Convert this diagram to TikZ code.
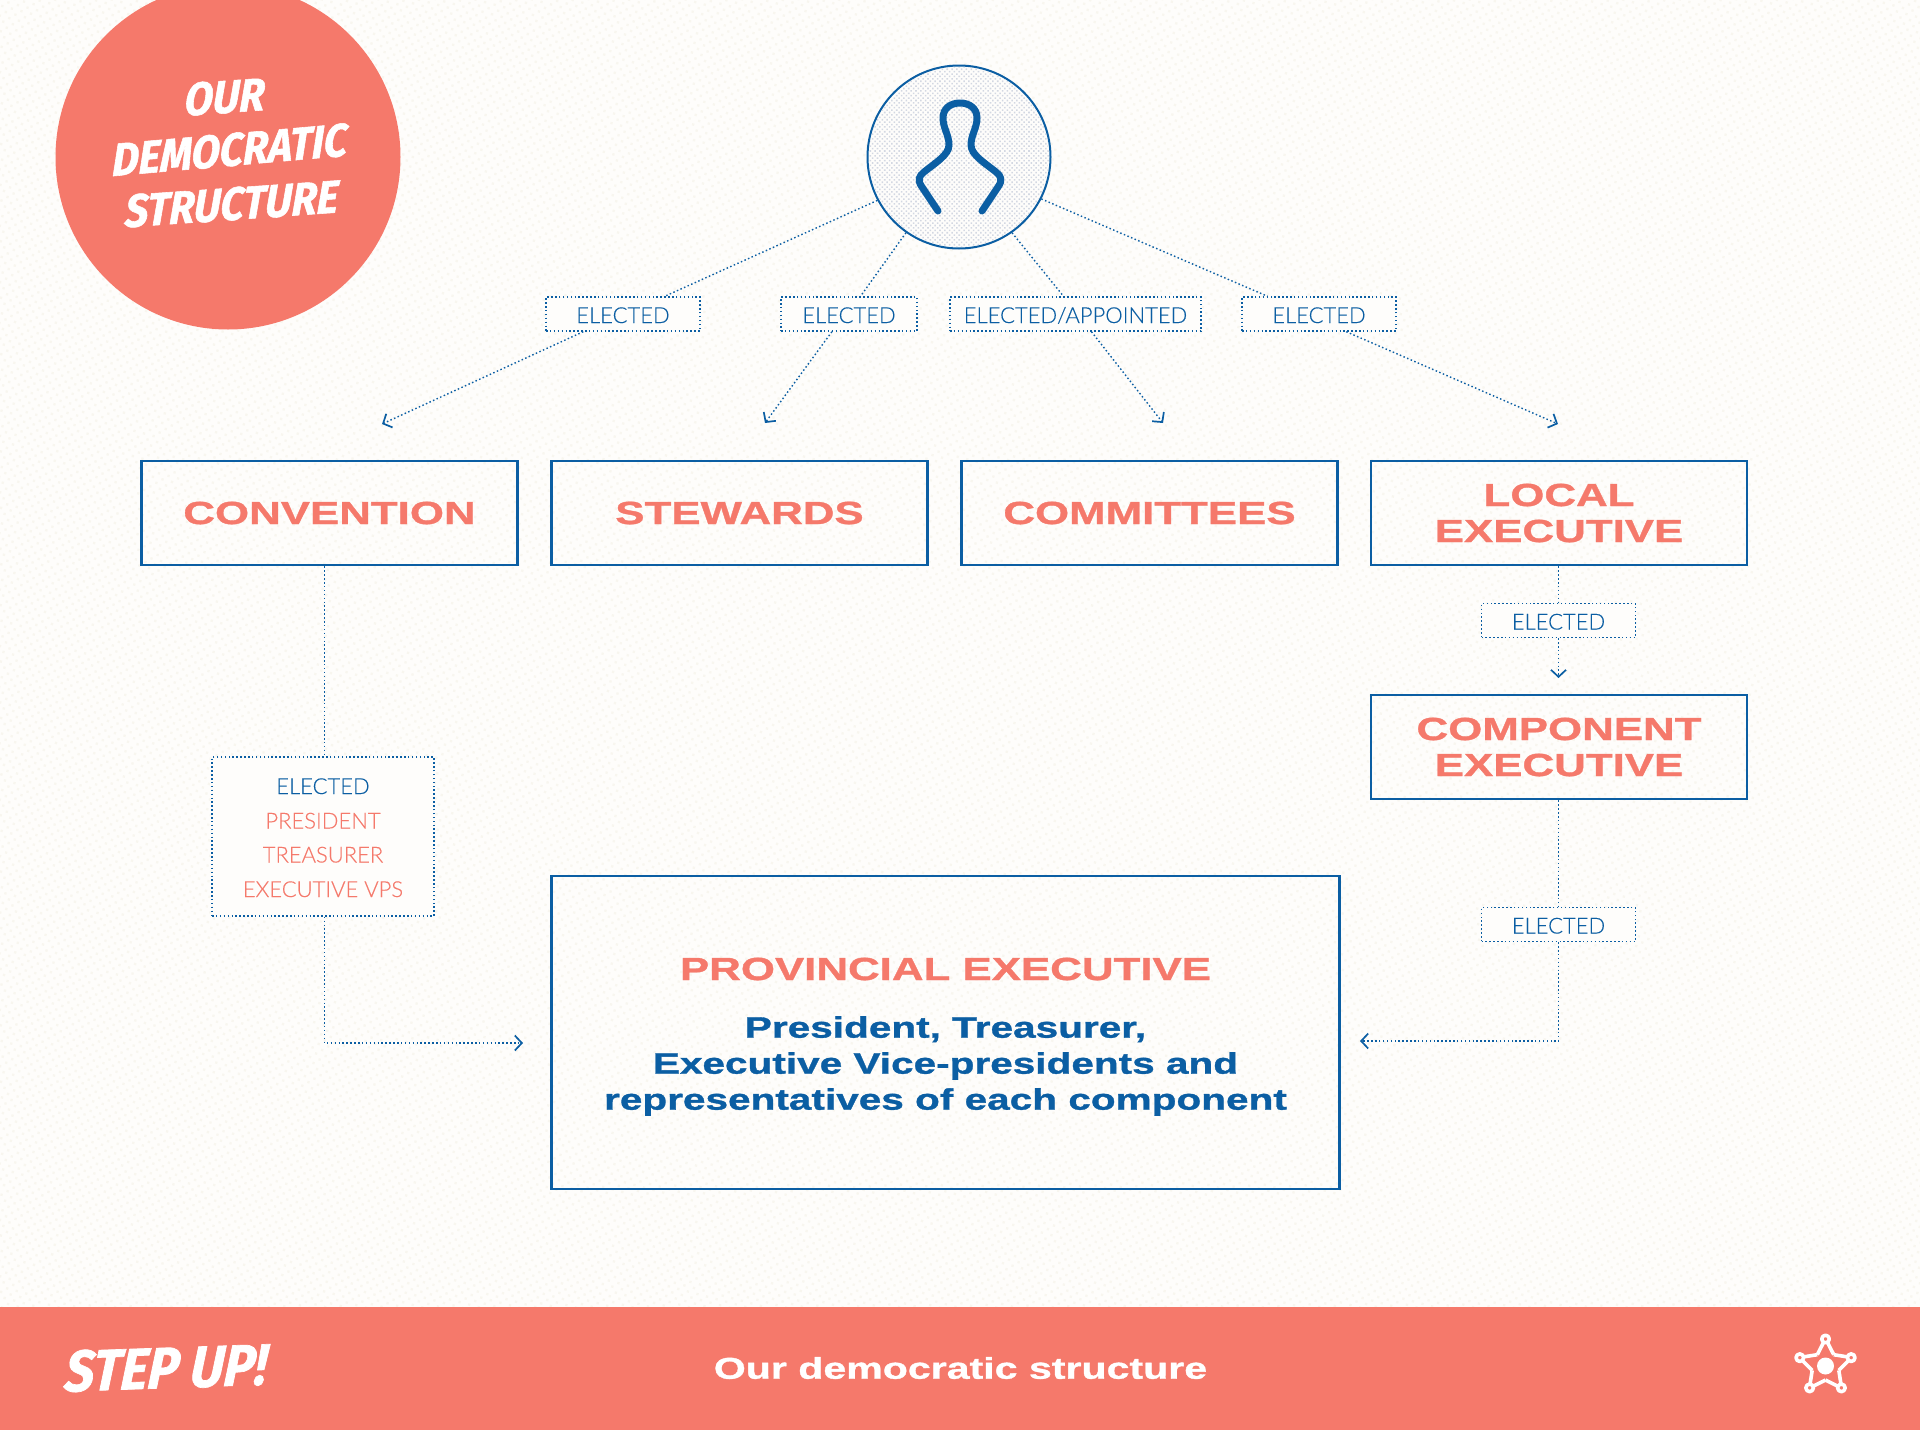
\documentclass[tikz,border=0pt]{standalone}
\usepackage{fontspec}
\usetikzlibrary{arrows.meta,patterns.meta}
\setmainfont{Lato}[UprightFont=* Light,UprightFeatures={FakeBold=0.25}]
\newfontfamily\widefont{Liberation Sans Bold}[FakeStretch=1.37,FakeBold=1.1]
\newfontfamily\brushfont{Fira Sans}[UprightFont=* Bold,ItalicFont=* Bold Italic,FakeStretch=0.9,ItalicFeatures={FakeSlant=0.12,FakeBold=1.2}]
\definecolor{bluex}{HTML}{0B5EA3}
\definecolor{coral}{HTML}{F5796B}
\definecolor{paper}{HTML}{FEFDFB}
\definecolor{paperdot}{HTML}{F8F6EF}
\definecolor{persondot}{HTML}{D3D8E2}
\newcommand{\fs}[1]{\fontsize{#1}{#1}\selectfont}
\tikzset{
  x=1pt,y=-1pt,
  orgbox/.style={draw=bluex,line width=2.8pt,minimum width=376pt,minimum height=104pt,align=center,inner sep=0pt,text=coral,font=\widefont\fontsize{32}{36}\selectfont},
  dotline/.style={draw=bluex,line width=1.4pt,dash pattern=on 1.5pt off 2.4pt},
  flow/.style={dotline,-{Straight Barb[length=7pt,width=15pt,line width=1.7pt,bluex]}},
  taglabel/.style={dotline,fill=paper,text=bluex,font=\fs{22},inner sep=0pt,minimum height=34pt,text height=18pt,text depth=0pt},
  listline/.style={font=\fs{22},inner sep=0pt,text height=18pt,text depth=0pt},
  brush/.style={text=white,font=\brushfont\itshape\fs{46},inner sep=0pt},
}
\begin{document}
\begin{tikzpicture}
\useasboundingbox (0,0) rectangle (1920,1430);
\path[clip] (0,0) rectangle (1920,1430);
\fill[paper] (0,0) rectangle (1920,1430);
\fill[pattern={Dots[distance=7pt,radius=1.6pt,angle=30]},pattern color=paperdot] (0,0) rectangle (1920,1307);
% badge
\node[circle,fill=coral,minimum size=345pt,inner sep=0pt] (badge) at (228,157) {};
\node[brush,rotate=4] (t1) at (223,97) {OUR};
\node[brush,rotate=5] (t2) at (228,150) {DEMOCRATIC};
\node[brush,rotate=4] (t3) at (230,204) {STRUCTURE};
% person
\node[circle,draw=bluex,line width=2pt,fill=paper,minimum size=183pt,inner sep=0pt] (person) at (959,157) {};
\fill[pattern={Dots[distance=3.4pt,radius=1.1pt,angle=45]},pattern color=persondot] (959,157) circle (90);
\draw[bluex,line width=7pt,line cap=round,line join=round]
  (938,211) -- (922,187) .. controls (917,180) and (919,176) .. (924,172)
  .. controls (935,163) and (949,155) .. (949,145)
  .. controls (949,135) and (943,128) .. (943,118)
  .. controls (943,108) and (951,103) .. (960,103)
  .. controls (969,103) and (977,108) .. (977,118)
  .. controls (977,128) and (971,135) .. (971,145)
  .. controls (971,155) and (985,163) .. (996,172)
  .. controls (1001,176) and (1003,180) .. (998,187) -- (982,211);
% boxes
\node[orgbox] (conv) at (329.5,513) {CONVENTION};
\node[orgbox] (stew) at (739.5,513) {STEWARDS};
\node[orgbox] (comm) at (1149.5,513) {COMMITTEES};
\node[orgbox] (local) at (1559,513) {LOCAL\\EXECUTIVE};
\node[orgbox] (comp) at (1559,747) {COMPONENT\\EXECUTIVE};
\node[orgbox,minimum width=788pt,minimum height=313pt] (prov) at (945.5,1032.5) {};
\node[text=coral,font=\widefont\fs{32},inner sep=0pt] (provt) at (945.5,969) {PROVINCIAL EXECUTIVE};
\node[text=bluex,font=\widefont\fs{29.6},inner sep=0pt,align=center] (provb) at (945.5,1066)
  {President, Treasurer,\\[6.4pt]Executive Vice-presidents and\\[6.4pt]representatives of each component};
% labels
\node[taglabel,minimum width=154pt] (l1) at (623,314) {ELECTED};
\node[taglabel,minimum width=136pt] (l2) at (849,314) {ELECTED};
\node[taglabel,minimum width=251pt] (l3) at (1075.5,314) {ELECTED/APPOINTED};
\node[taglabel,minimum width=154pt] (l4) at (1319,314) {ELECTED};
\node[taglabel,minimum width=154pt] (l5) at (1558.5,620.5) {ELECTED};
\node[taglabel,minimum width=154pt] (l6) at (1558.5,924.5) {ELECTED};
\node[dotline,fill=paper,minimum width=222pt,minimum height=159pt,inner sep=0pt] (l7) at (323,836.5) {};
\node[listline,text=bluex] (l7a) at (323,785) {ELECTED};
\node[listline,text=coral] (l7b) at (323,819.5) {PRESIDENT};
\node[listline,text=coral] (l7c) at (323,853.5) {TREASURER};
\node[listline,text=coral] (l7d) at (323,888) {EXECUTIVE VPS};
% free ends
\coordinate (tip1) at (382,424);
\coordinate (tip2) at (765,423);
\coordinate (tip3) at (1163,423);
\coordinate (tip4) at (1558,424);
\coordinate (tip5) at (1558.5,678);
\coordinate (tip6) at (523,1043);
\coordinate (tip7) at (1360,1041);
% connectors
\draw[dotline] (person.208) -- (l1.23.6);
\draw[flow] (l1.204.7) -- (tip1);
\draw[dotline] (person.235) -- (l2.57);
\draw[flow] (l2.226.7) -- (tip2);
\draw[dotline] (person.305.4) -- (l3.124);
\draw[flow] (l3.312.4) -- (tip3);
\draw[dotline] (person.333.4) -- (l4.161.9);
\draw[flow] (l4.327.8) -- (tip4);
\draw[dotline] (local.south -| l5.north) -- (l5.north);
\draw[flow] (l5.south) -- (tip5);
\draw[dotline] (comp.south -| l6.north) -- (l6.north);
\draw[flow] (l6.south) |- (tip7);
\draw[dotline] (conv.south -| l7.89) -- (l7.89);
\draw[flow] (l7.271) |- (tip6);
% footer
\fill[coral] (0,1307) rectangle (1920,1430);
\node[brush,font=\brushfont\itshape\fs{58},rotate=2] (step) at (164,1368) {STEP UP!};
\node[text=white,font=\widefont\fs{30},inner sep=0pt] (foot) at (960.5,1368) {Our democratic structure};
% emblem
\begin{scope}[shift={(1825.5,1366)},draw=white,line width=3.6pt,line join=round]
  \fill[white] (0,0) circle (8.5);
  \foreach \a in {-90,-18,54,126,198}{
    \draw (\a:27) ++ (\a-150:3.6) -- (\a-36:14);
    \draw (\a:27) ++ (\a+150:3.6) -- (\a+36:14);
    \draw (\a:27) circle (3.8);
  }
\end{scope}
\end{tikzpicture}
\end{document}
